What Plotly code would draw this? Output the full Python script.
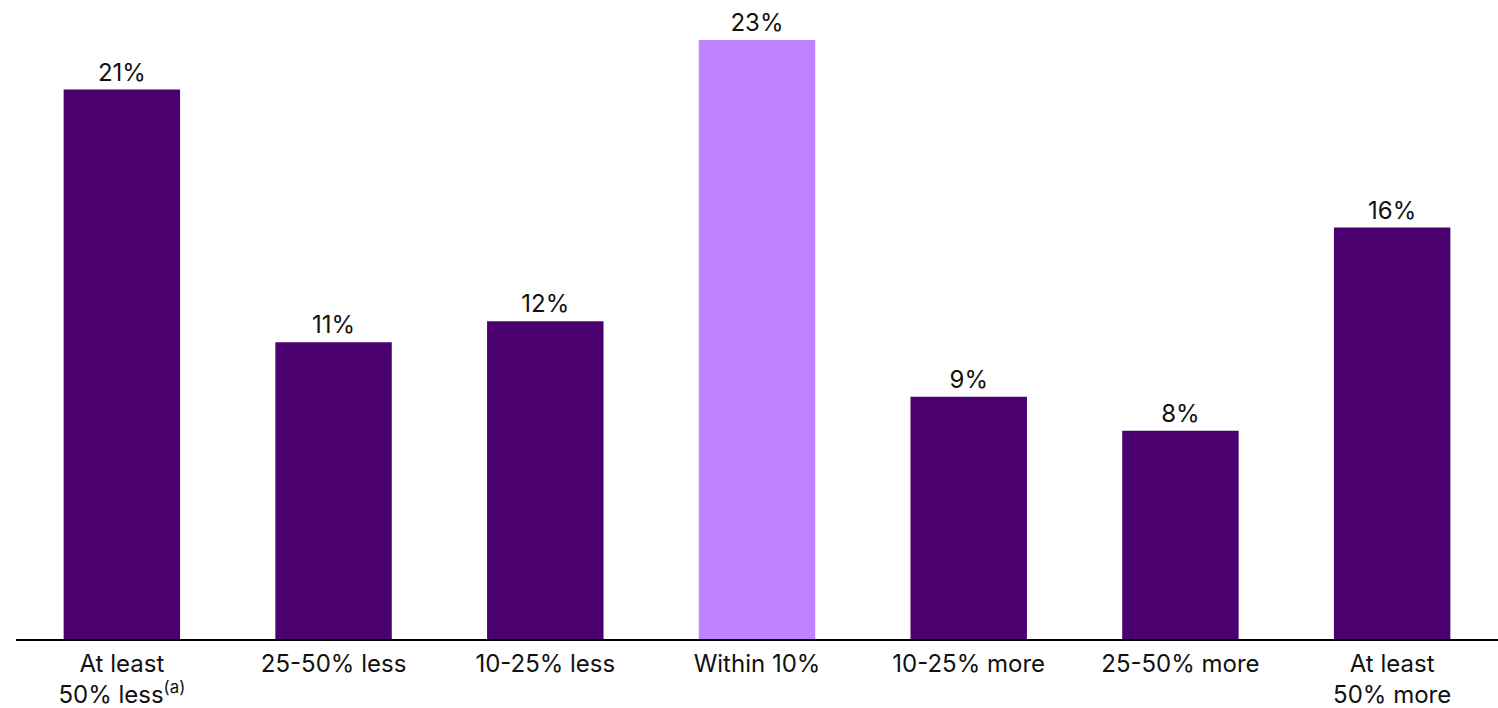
import plotly.graph_objects as go

categories = ["At least<br>50% less<sup>(a)</sup>", "25-50% less", "10-25% less", "Within 10%",
              "10-25% more", "25-50% more", "At least<br>50% more"]
values = [21.1, 11.4, 12.2, 23.0, 9.3, 8.0, 15.8]
labels = ["21%", "11%", "12%", "23%", "9%", "8%", "16%"]
colors = ["#4a006f", "#4a006f", "#4a006f", "#bf82fe", "#4a006f", "#4a006f", "#4a006f"]

fig = go.Figure(go.Bar(
    x=list(range(len(categories))), y=values, text=labels, textposition="outside",
    marker=dict(color=colors, line=dict(width=0)), width=0.55,
    textfont=dict(family="Inter, Roboto, sans-serif", size=24, color="#111111"),
    cliponaxis=False,
))
fig.update_layout(
    width=1498, height=708, margin=dict(l=16, r=0, t=0, b=69),
    plot_bgcolor="white", paper_bgcolor="white", showlegend=False,
    font=dict(family="Inter, Roboto, sans-serif", size=24, color="#111111"),
    xaxis=dict(tickmode="array", tickvals=list(range(len(categories))), ticktext=categories,
               range=[-0.5, 6.5], showline=True, linecolor="black", linewidth=2,
               showgrid=False, zeroline=False, ticks="", ticklabelstandoff=2,
               automargin=False),
    yaxis=dict(range=[0, 24.54], visible=False, showgrid=False, zeroline=False,
               automargin=False),
    bargap=0.45,
)
fig.write_html("out.html")
